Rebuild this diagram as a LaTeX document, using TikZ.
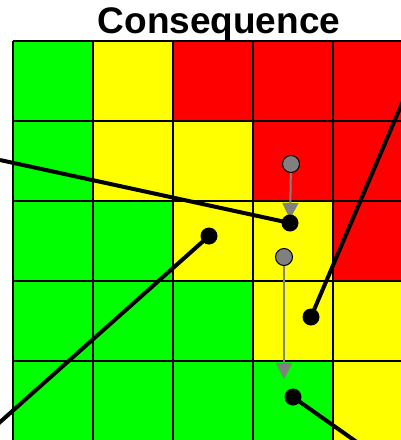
\documentclass[tikz,border=0pt]{standalone}
\usepackage{fontspec}
\setmainfont{Liberation Sans}
\usetikzlibrary{arrows.meta}
\definecolor{cg}{RGB}{0,255,0}
\definecolor{cy}{RGB}{255,255,0}
\definecolor{cr}{RGB}{255,0,0}
\definecolor{cgray}{RGB}{128,128,128}
\pgfdeclarelayer{bg}
\pgfdeclarelayer{mid}
\pgfsetlayers{bg,mid,main}
\begin{document}
\begin{tikzpicture}[x=1pt,y=-1pt,
  gridline/.style={line width=2.4pt,black},
  link/.style={line width=4pt,black},
  move/.style={line width=2pt,cgray,-{Triangle[length=16pt,width=16pt]}},
  bdot/.style={circle,fill=black,inner sep=0pt,minimum size=17pt},
  gdot/.style={circle,fill=cgray,draw=black,line width=1pt,inner sep=0pt,minimum size=17pt}]
\useasboundingbox (0,0) rectangle (400,440);
\clip (0,0) rectangle (400,440);
\begin{pgfonlayer}{bg}
\fill[white] (0,0) rectangle (400,440);
\foreach \c [count=\i from 0] in {cg,cy,cr,cr,cr, cg,cy,cy,cr,cr, cg,cg,cy,cy,cr, cg,cg,cg,cy,cy, cg,cg,cg,cg,cy}{
  \pgfmathtruncatemacro{\row}{int(\i/5)}
  \pgfmathtruncatemacro{\col}{mod(\i,5)}
  \fill[\c] (13+80*\col,41+80*\row) rectangle ++(80,80);
}
\foreach \k in {0,...,5}{
  \draw[gridline] (13+80*\k,41) -- (13+80*\k,441);
  \draw[gridline] (13,41+80*\k) -- (413,41+80*\k);
}
\end{pgfonlayer}
\node[anchor=base,font=\bfseries\fontsize{37}{40}\selectfont,inner sep=0pt] (title) at (219,33) {Consequence};
% dots
\node[bdot] (b1) at (290,223) {};
\node[bdot] (b2) at (209,236) {};
\node[bdot] (b3) at (311,317) {};
\node[bdot] (b4) at (293,397) {};
\node[gdot] (g1) at (291,164) {};
\node[gdot] (g2) at (284,257) {};
\coordinate (e1) at (0,160);
\coordinate (e2) at (-10,431);
\coordinate (e3) at (406,94);
\coordinate (e4) at (368,450);
\begin{pgfonlayer}{mid}
\draw[link] (e1) -- (b1.center);
\draw[link] (e2) -- (b2.center);
\draw[link] (e3) -- (b3.center);
\draw[link] (e4) -- (b4.center);
\draw[move,shorten >=4pt] (g1) -- (b1.center);
\draw[move,shorten >=18pt] (g2) -- (g2 |- b4);
\end{pgfonlayer}
\end{tikzpicture}
\end{document}
